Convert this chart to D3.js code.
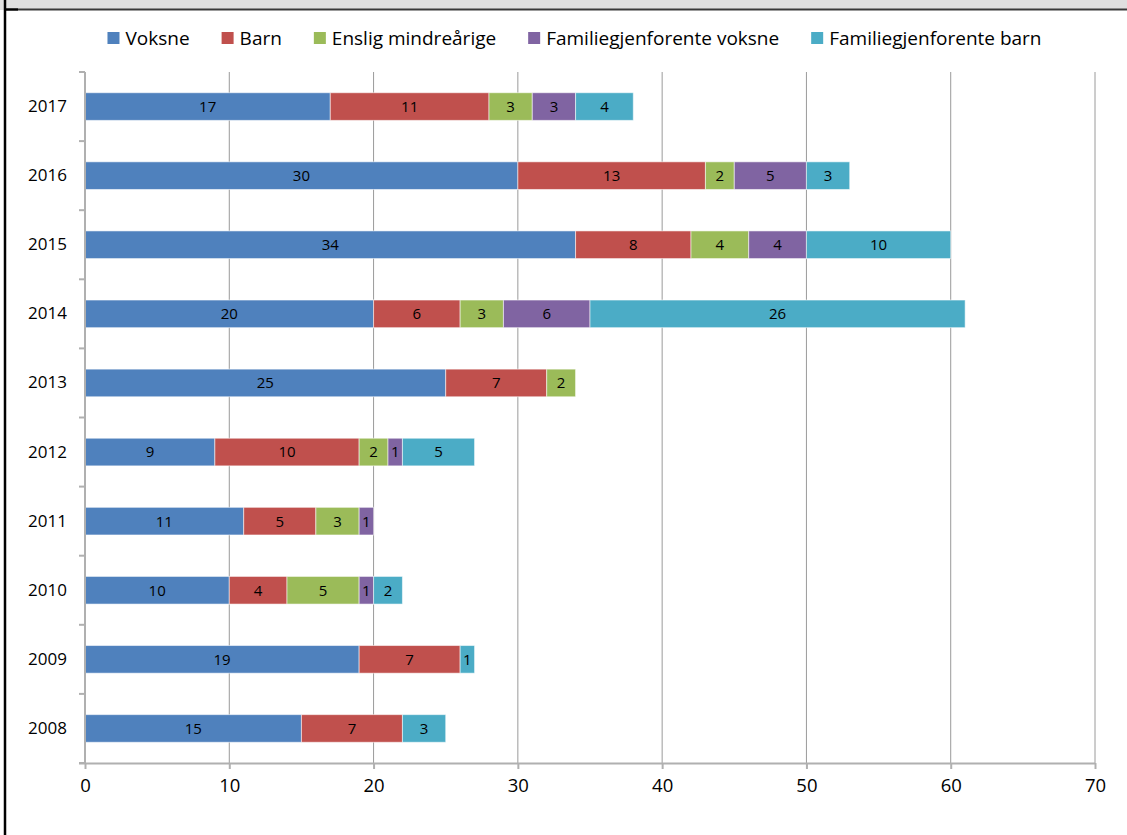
<!DOCTYPE html>
<html>
<head>
<meta charset="utf-8">
<script src="https://cdn.jsdelivr.net/npm/d3@7/dist/d3.min.js"></script>
<style>
  html, body { margin: 0; padding: 0; background: #fff; }
  svg { display: block; font-family: "Open Sans", "Noto Sans", sans-serif; }
</style>
</head>
<body>
<svg id="chart" width="1127" height="835"></svg>
<script>
const years = ["2017", "2016", "2015", "2014", "2013", "2012", "2011", "2010", "2009", "2008"];
const seriesNames = ["Voksne", "Barn", "Enslig mindreårige", "Familiegjenforente voksne", "Familiegjenforente barn"];
const seriesColors = ["#4F81BD", "#C0504D", "#9BBB59", "#8064A2", "#4BACC6"];
const voksne = [17, 30, 34, 20, 25, 9, 11, 10, 19, 15];
const barn = [11, 13, 8, 6, 7, 10, 5, 4, 7, 7];
const enslig = [3, 2, 4, 3, 2, 2, 3, 5, 0, 0];
const famVoksne = [3, 5, 4, 6, 0, 1, 1, 1, 0, 0];
const famBarn = [4, 3, 10, 26, 0, 5, 0, 2, 1, 3];
const xTicks = [0, 10, 20, 30, 40, 50, 60, 70];

const seriesValues = [voksne, barn, enslig, famVoksne, famBarn];
const table = years.map((y, i) => {
  const row = { year: y };
  seriesNames.forEach((s, k) => row[s] = seriesValues[k][i]);
  return row;
});

const svg = d3.select("#chart");
const W = 1127, H = 835;

// frame
svg.append("rect").attr("x", 0).attr("y", 0).attr("width", W).attr("height", 10).attr("fill", "#e0e0e0");
svg.append("line").attr("x1", 18).attr("x2", W).attr("y1", 9.5).attr("y2", 9.5).attr("stroke", "#3a3a3a").attr("stroke-width", 2);
svg.append("line").attr("x1", 4).attr("x2", 18).attr("y1", 9.5).attr("y2", 9.5).attr("stroke", "#000").attr("stroke-width", 2.5);
svg.append("line").attr("x1", 5).attr("x2", 5).attr("y1", 0).attr("y2", H).attr("stroke", "#000").attr("stroke-width", 2.5);

const plot = { left: 85, right: 1095, top: 72, bottom: 763 };

const x = d3.scaleLinear().domain([0, 70]).range([plot.left, plot.right]);
const y = d3.scaleBand().domain(years).range([plot.top, plot.bottom]).paddingInner(0.6).paddingOuter(0.3);

// gridlines
svg.append("g").selectAll("line").data(xTicks.filter(t => t > 0)).join("line")
  .attr("x1", d => x(d)).attr("x2", d => x(d))
  .attr("y1", plot.top).attr("y2", plot.bottom)
  .attr("stroke", "#9a9a9a").attr("stroke-width", 1);

// bars
const stack = d3.stack().keys(seriesNames);
const stacked = stack(table);

const gBars = svg.append("g");
stacked.forEach((layer, k) => {
  const g = gBars.append("g");
  g.selectAll("rect").data(layer.filter(d => d[1] - d[0] > 0)).join("rect")
    .attr("x", d => x(d[0]))
    .attr("y", d => y(d.data.year))
    .attr("width", d => x(d[1]) - x(d[0]))
    .attr("height", y.bandwidth())
    .attr("fill", seriesColors[k])
    .attr("stroke", "rgba(255,255,255,0.55)")
    .attr("stroke-width", 1);
});

// axes
const xAxis = d3.axisBottom(x).tickValues(xTicks).tickSize(6).tickPadding(10).tickFormat(d3.format("d"));
const gx = svg.append("g").attr("transform", `translate(0,${plot.bottom})`).call(xAxis);
gx.select(".domain").attr("stroke", "#b0b0b0").attr("stroke-width", 2)
  .attr("d", `M${plot.left - 6},0.5H${plot.right}`);
gx.selectAll(".tick line").attr("stroke", "#b0b0b0").attr("stroke-width", 2);
gx.selectAll(".tick text").attr("font-size", 18.5).attr("fill", "#000").attr("font-family", "Open Sans");

const yAxis = d3.axisLeft(y).tickSize(0).tickPadding(18);
const gy = svg.append("g").attr("transform", `translate(${plot.left},0)`).call(yAxis);
gy.select(".domain").attr("stroke", "#b0b0b0").attr("stroke-width", 2)
  .attr("d", `M0,${plot.top}V${plot.bottom}`);
gy.selectAll(".tick text").attr("font-size", 17).attr("fill", "#000").attr("font-family", "Open Sans");
// category boundary ticks
const bounds = d3.range(years.length + 1).map(i => plot.top + i * (plot.bottom - plot.top) / years.length);
svg.append("g").selectAll("line").data(bounds).join("line")
  .attr("x1", plot.left - 6).attr("x2", plot.left)
  .attr("y1", d => d).attr("y2", d => d)
  .attr("stroke", "#b0b0b0").attr("stroke-width", 2);

// data labels
const gLab = svg.append("g");
stacked.forEach((layer, k) => {
  gLab.append("g").selectAll("text").data(layer.filter(d => d[1] - d[0] > 0)).join("text")
    .attr("x", d => (x(d[0]) + x(d[1])) / 2)
    .attr("y", d => y(d.data.year) + y.bandwidth() / 2)
    .attr("dy", "0.36em")
    .attr("text-anchor", "middle")
    .attr("font-size", 15)
    .attr("fill", "#000")
    .text(d => d[1] - d[0]);
});

// legend
const legend = svg.append("g");
const items = legend.selectAll("g").data(seriesNames).join("g");
items.append("rect").attr("width", 12).attr("height", 12).attr("y", 32)
  .attr("fill", (d, i) => seriesColors[i]);
items.append("text").attr("x", 18).attr("y", 44.5).attr("font-size", 19).attr("fill", "#000").text(d => d);
let cx = 0;
const offs = [];
items.each(function () {
  const w = d3.select(this).select("text").node().getComputedTextLength();
  offs.push(cx);
  cx += 18 + w + 32;
});
const total = cx - 32;
const startX = 574.5 - total / 2;
items.attr("transform", (d, i) => `translate(${startX + offs[i]},0)`);
</script>
</body>
</html>
